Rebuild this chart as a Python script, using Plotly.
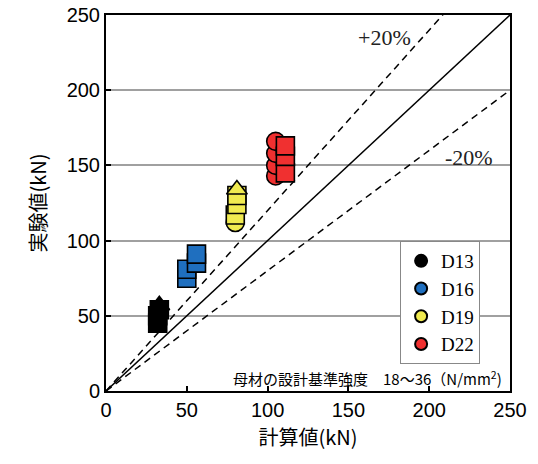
import plotly.graph_objects as go

# Data
d13_x = [32, 32, 33, 33]
d13_y = [45, 50, 54, 57]
d13_sym = ["square", "square", "square", "triangle-up"]

d16_x = [50, 50, 56, 56]
d16_y = [75, 81, 85, 91]
d16_sym = ["square", "square", "square", "square"]

d19_x = [80, 80, 81, 81, 81]
d19_y = [112, 117, 124, 130, 134]
d19_sym = ["circle", "square", "square", "square", "triangle-up"]

d22_x = [105, 105, 105, 105, 111, 111, 111]
d22_y = [143, 150, 158, 166, 145, 156, 163]
d22_sym = ["circle", "circle", "circle", "circle", "square", "square", "square"]

series_names = ["D13", "D16", "D19", "D22"]
series_colors = ["#000000", "#1f6fbf", "#f0ea50", "#f03030"]

x_ticks = [0, 50, 100, 150, 200, 250]
y_ticks = [0, 50, 100, 150, 200, 250]
line_x = [0, 250]
ratio_equal = 1.0
ratio_plus = 1.2
ratio_minus = 0.8

fig = go.Figure()

# reference lines
fig.add_trace(go.Scatter(x=line_x, y=[v * ratio_equal for v in line_x], mode="lines",
                         line=dict(color="black", width=1.5), showlegend=False, hoverinfo="skip"))
fig.add_trace(go.Scatter(x=line_x, y=[v * ratio_plus for v in line_x], mode="lines",
                         line=dict(color="black", width=1.5, dash="7px,5px"), showlegend=False, hoverinfo="skip"))
fig.add_trace(go.Scatter(x=line_x, y=[v * ratio_minus for v in line_x], mode="lines",
                         line=dict(color="black", width=1.5, dash="7px,5px"), showlegend=False, hoverinfo="skip"))

data = [(d13_x, d13_y, d13_sym), (d16_x, d16_y, d16_sym), (d19_x, d19_y, d19_sym), (d22_x, d22_y, d22_sym)]
for (xs, ys, syms), name, col in zip(data, series_names, series_colors):
    fig.add_trace(go.Scatter(x=xs, y=ys, mode="markers", name=name, showlegend=False,
                             marker=dict(symbol=syms, size=18, color=col,
                                         line=dict(color="black", width=1.6))))
for name, col in zip(series_names, series_colors):
    fig.add_trace(go.Scatter(x=[None], y=[None], mode="markers", name=name,
                             marker=dict(symbol="circle", size=11, color=col,
                                         line=dict(color="black", width=1))))

fig.add_annotation(x=0.69, y=0.941, xref="paper", yref="paper", text="+20%", showarrow=False,
                   font=dict(family="Liberation Serif", size=22, color="#222"), xanchor="center", yanchor="middle")
fig.add_annotation(x=0.898, y=0.622, xref="paper", yref="paper", text="-20%", showarrow=False,
                   font=dict(family="Liberation Serif", size=22, color="#222"), xanchor="center", yanchor="middle")
fig.add_annotation(x=0.985, y=0.035, xref="paper", yref="paper",
                   text="母材の設計基準強度　18～36（N/mm<sup>2</sup>)", showarrow=False,
                   font=dict(family="Noto Sans CJK JP", size=15, color="black"), xanchor="right", yanchor="middle")

fig.update_layout(
    width=530, height=456,
    margin=dict(l=98, r=28, t=7, b=73, autoexpand=False),
    paper_bgcolor="white", plot_bgcolor="white",
    font=dict(family="Liberation Sans", size=20, color="black"),
    showlegend=True,
    legend=dict(x=0.728, y=0.399, xanchor="left", yanchor="top",
                bgcolor="white", bordercolor="#888", borderwidth=1,
                font=dict(family="Liberation Serif", size=19, color="black"),
                itemsizing="constant", tracegroupgap=0),
    xaxis=dict(range=[0, 250], tickvals=x_ticks, showgrid=False, zeroline=False,
               showline=True, linecolor="black", linewidth=2, mirror=True,
               ticks="inside", ticklen=5, tickcolor="black", tickwidth=1.5, automargin=False,
               ticklabeloverflow="allow",
               title=dict(text="計算値(kN)", font=dict(family="Noto Sans CJK JP", size=20), standoff=11)),
    yaxis=dict(range=[0, 250], tickvals=y_ticks, showgrid=True, gridcolor="#a0a0a0", gridwidth=2,
               zeroline=False, showline=True, linecolor="black", linewidth=2, mirror=True,
               ticks="inside", ticklen=5, tickcolor="black", tickwidth=1.5, automargin=False,
               ticklabeloverflow="allow",
               title=dict(text="実験値(kN)", font=dict(family="Noto Sans CJK JP", size=20), standoff=15)),
)

fig.write_html("out.html")
